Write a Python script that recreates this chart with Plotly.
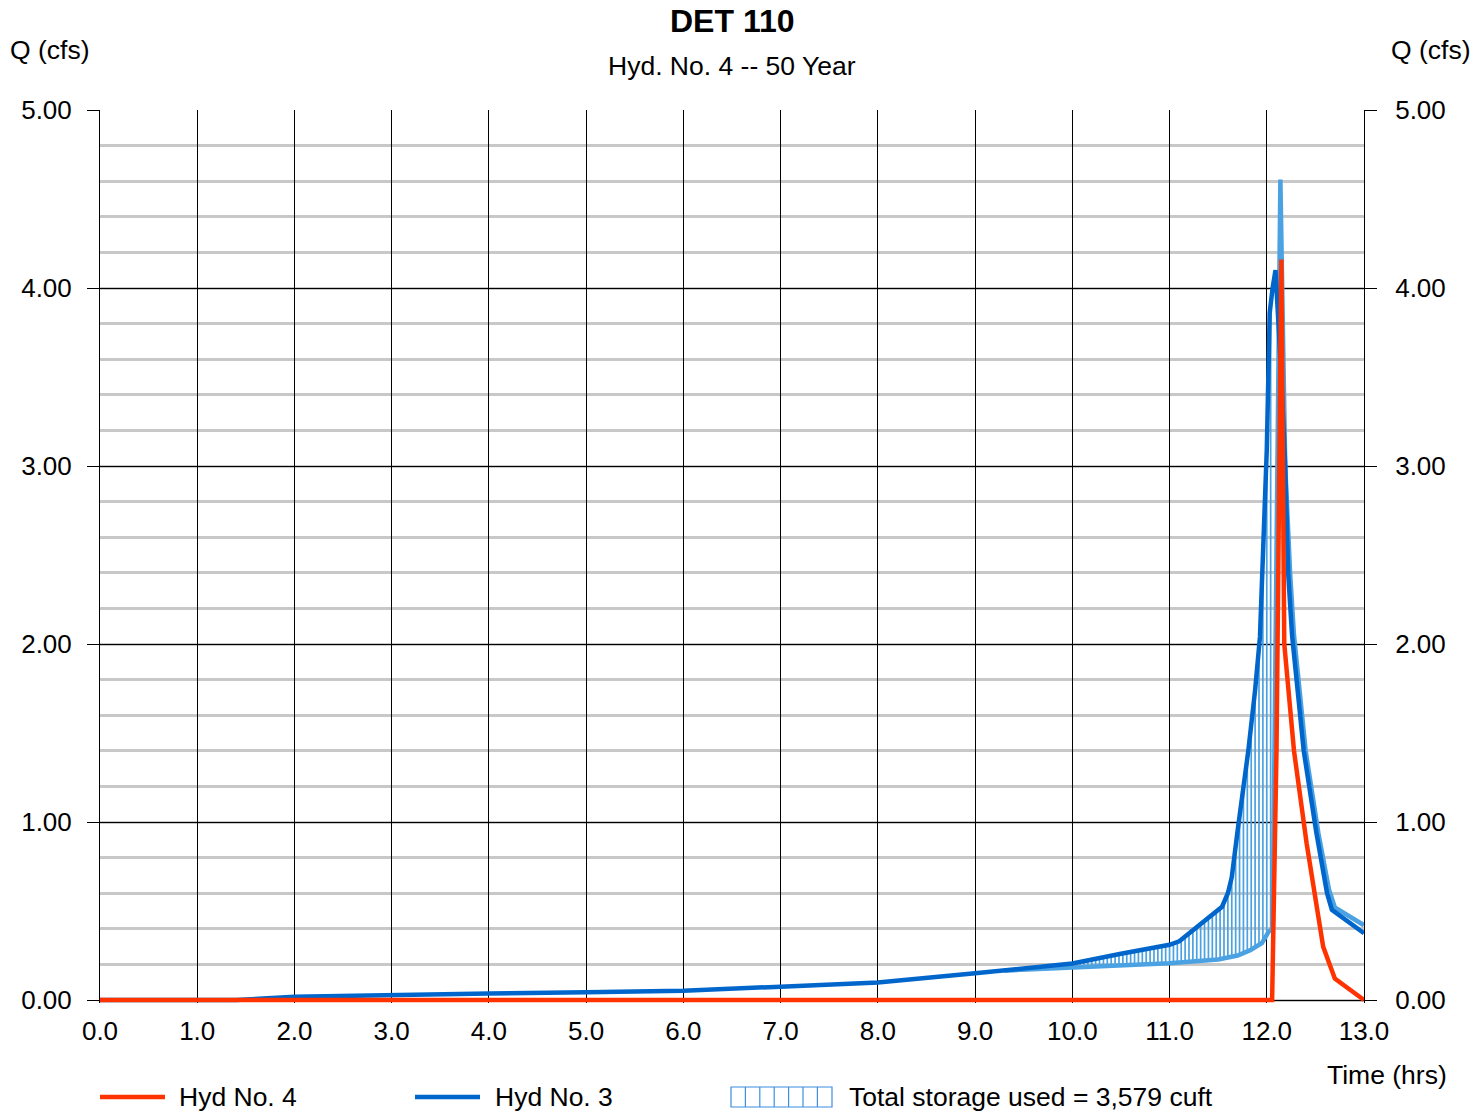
import numpy as np
import plotly.graph_objects as go

# ---- Hydrograph data (time in hrs, flow in cfs) ----
# Hyd No. 3 : inflow hydrograph
t_in = [0.0, 1.4, 2.0, 3.0, 4.0, 5.0, 6.0, 7.0, 8.0, 9.0, 9.5, 10.0, 10.5,
        11.0, 11.1, 11.3, 11.54, 11.6, 11.64, 11.7, 11.81, 11.88, 11.93,
        12.0, 12.03, 12.06, 12.09, 12.15, 12.19, 12.22, 12.26, 12.38,
        12.51, 12.62, 12.67, 13.0]
q_in = [0.0, 0.0, 0.018, 0.03, 0.037, 0.043, 0.052, 0.075, 0.098, 0.15,
        0.175, 0.205, 0.26, 0.31, 0.33, 0.42, 0.524, 0.6, 0.69, 0.95, 1.40,
        1.74, 2.04, 3.09, 3.86, 4.0, 4.10, 3.5, 3.0, 2.4, 2.05, 1.40,
        0.94, 0.60, 0.506, 0.375]

# Storage boundary curve (lower edge of the hatched storage area)
t_st = [9.3, 9.6, 10.0, 10.5, 11.0, 11.5, 11.7, 11.83, 11.95, 12.02, 12.06,
        12.14, 12.19, 12.24, 12.28, 12.40, 12.53, 12.64, 12.70, 13.0]
q_st = [0.165, 0.172, 0.18, 0.195, 0.207, 0.228, 0.25, 0.28, 0.32, 0.384,
        0.40, 4.61, 3.0, 2.4, 2.05, 1.40, 0.94, 0.62, 0.52, 0.42]

# Hyd No. 4 : routed outflow hydrograph
t_out = [0.0, 12.055, 12.10, 12.125, 12.15, 12.18, 12.28, 12.41, 12.58,
         12.63, 12.70, 12.86, 12.98, 13.0]
q_out = [0.0, 0.0, 1.4, 3.1, 4.16, 2.0, 1.40, 0.88, 0.30, 0.225, 0.12,
         0.056, 0.01, 0.0]

x_ticks = [0, 1, 2, 3, 4, 5, 6, 7, 8, 9, 10, 11, 12, 13]
y_ticks = [0, 1, 2, 3, 4, 5]

RED = "#ff3300"
BLUE = "#0066cc"
LIGHT = "#4aa2e2"
FONT = "Liberation Sans, Arial, sans-serif"

# figure / plot-area geometry (px); the value axis reaches a hair below zero
# so the flat zero-flow line is not clipped in half at the bottom edge
W, H = 1473, 1112
L, R, T, B = 100, 109, 110, 109
PW, PH = W - L - R, H - T - B
Y_MIN = -3.0 / 178.0


def px(x):
    return (x - L) / PW


def py(y):
    return (H - B - y) / PH


fig = go.Figure()

# hatched storage area: vertical strokes between the storage curve and inflow
hatch_t = np.arange(9.4, 12.07, 0.04)
lo = np.interp(hatch_t, t_st, q_st)
hi = np.interp(hatch_t, t_in, q_in)
hx, hy = [], []
for t, a, b in zip(hatch_t, lo, hi):
    if b > a:
        hx += [t, t, None]
        hy += [a, b, None]
fig.add_trace(go.Scatter(x=hx, y=hy, mode="lines", showlegend=False,
                         line=dict(color=LIGHT, width=1.7),
                         hoverinfo="skip"))

fig.add_trace(go.Scatter(x=t_st, y=q_st, mode="lines", showlegend=False,
                         line=dict(color=LIGHT, width=4.5)))
fig.add_trace(go.Scatter(x=t_in, y=q_in, mode="lines", name="Hyd No. 3",
                         showlegend=False, line=dict(color=BLUE, width=4.5)))
fig.add_trace(go.Scatter(x=t_out, y=q_out, mode="lines", name="Hyd No. 4",
                         showlegend=False, line=dict(color=RED, width=4.5)))
# carrier trace for the right-hand axis
fig.add_trace(go.Scatter(x=[0], y=[0], yaxis="y2", mode="markers",
                         marker=dict(opacity=0), showlegend=False,
                         hoverinfo="skip"))

tick_font = dict(family=FONT, size=26, color="black")
TXT = 26.5

fig.update_layout(
    width=W, height=H,
    margin=dict(l=L, r=R, t=T, b=B),
    paper_bgcolor="white", plot_bgcolor="white",
    font=dict(family=FONT, color="black"),
    xaxis=dict(range=[0, 13], tickvals=x_ticks, tickformat=".1f",
               showgrid=True, gridcolor="black", gridwidth=1,
               zeroline=False, ticks="", showline=False, tickfont=tick_font,
               ticklabelstandoff=10),
    yaxis=dict(range=[Y_MIN, 5], tickvals=y_ticks, tickformat=".2f",
               showgrid=True, gridcolor="black", gridwidth=1,
               zeroline=False, ticks="outside", ticklen=12, tickwidth=1,
               tickcolor="black", tickfont=tick_font, ticklabelstandoff=10,
               showline=True, linecolor="black", linewidth=1,
               minor=dict(dtick=0.2, showgrid=True, gridcolor="#c8c8c8",
                          gridwidth=2.5, ticks="")),
    yaxis2=dict(range=[Y_MIN, 5], tickvals=y_ticks, tickformat=".2f",
                overlaying="y", side="right", showgrid=False, zeroline=False,
                ticks="outside", ticklen=12, tickwidth=1, tickcolor="black",
                tickfont=tick_font, ticklabelstandoff=13,
                showline=True, linecolor="black", linewidth=1),
)

ann = [
    dict(text="<b>DET 110</b>", x=0.5, y=py(21), font=dict(size=32)),
    dict(text="Hyd. No. 4 -- 50 Year", x=0.5, y=py(66), font=dict(size=TXT)),
    dict(text="Q (cfs)", x=px(8), y=py(50), xanchor="left",
         font=dict(size=TXT)),
    dict(text="Q (cfs)", x=px(1473), y=py(50), xanchor="right",
         font=dict(size=TXT)),
    dict(text="Time (hrs)", x=px(1449), y=py(1075), xanchor="right",
         font=dict(size=TXT)),
    dict(text="Hyd No. 4", x=px(177), y=py(1097), xanchor="left",
         font=dict(size=TXT)),
    dict(text="Hyd No. 3", x=px(493), y=py(1097), xanchor="left",
         font=dict(size=TXT)),
    dict(text="Total storage used = 3,579 cuft", x=px(847), y=py(1097),
         xanchor="left", font=dict(size=TXT)),
]
for a in ann:
    a.setdefault("xanchor", "center")
    fig.add_annotation(xref="paper", yref="paper", showarrow=False,
                       yanchor="middle", **a)

# legend swatches
shapes = [
    dict(type="line", x0=px(100), x1=px(165), y0=py(1097), y1=py(1097),
         line=dict(color=RED, width=4.5)),
    dict(type="line", x0=px(415), x1=px(480), y0=py(1097), y1=py(1097),
         line=dict(color=BLUE, width=4.5)),
    dict(type="rect", x0=px(731), x1=px(832), y0=py(1107), y1=py(1087),
         line=dict(color="#3c8ee0", width=1.2)),
]
for k in range(1, 7):
    xk = 731 + k * 14.4
    shapes.append(dict(type="line", x0=px(xk), x1=px(xk), y0=py(1107),
                       y1=py(1087), line=dict(color="#3c8ee0", width=1.2)))
for s in shapes:
    fig.add_shape(xref="paper", yref="paper", **s)

fig.write_html("out.html")
